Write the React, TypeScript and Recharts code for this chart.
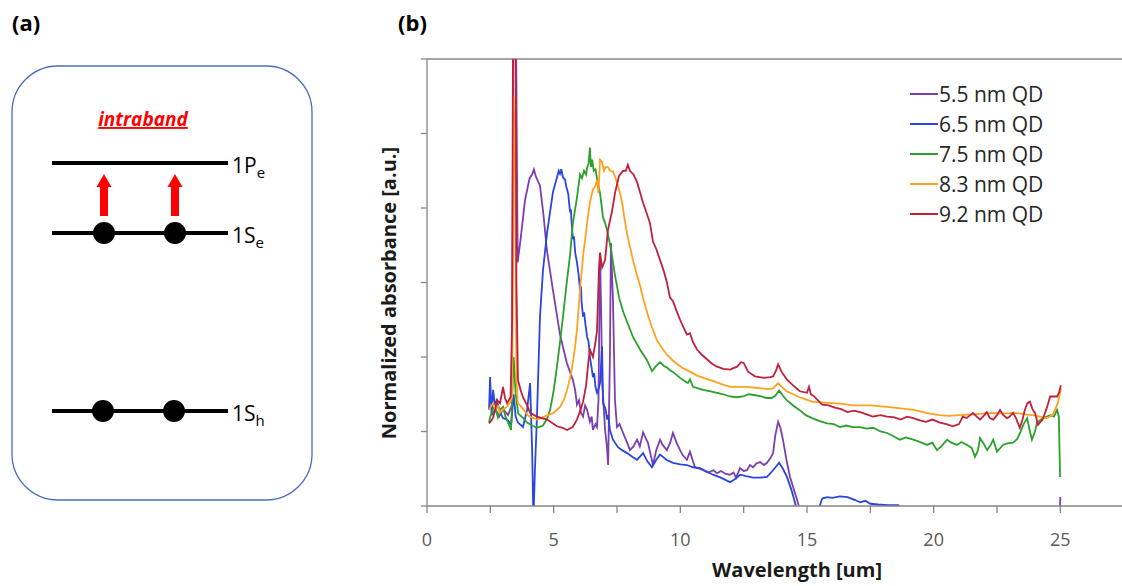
import React from 'react';
import { LineChart, Line, XAxis, YAxis, ReferenceLine, Label } from 'recharts';

type Pt = [number, number | null];

const seriesNames = ['5.5 nm QD', '6.5 nm QD', '7.5 nm QD', '8.3 nm QD', '9.2 nm QD'];
const seriesColors = ['#7B3FB0', '#2A45E0', '#2CA02C', '#FFA21F', '#C0203C'];

const qd55: Pt[] = [
  [2.55, 1.22], [2.7, 1.3], [2.85, 1.2], [3.0, 1.3], [3.2, 1.22], [3.35, 1.35], [3.42, 7], [3.5, 7], [3.58, 3.27],
  [3.7, 3.6], [3.87, 4.11], [4.05, 4.4], [4.15, 4.45], [4.22, 4.52], [4.3, 4.42], [4.46, 4.3], [4.6, 3.9], [4.73, 3.44],
  [4.97, 2.9], [5.25, 2.3], [5.52, 1.92], [5.76, 1.69], [5.85, 1.55], [5.92, 1.36], [6.0, 1.42], [6.08, 1.25], [6.16, 1.2],
  [6.24, 1.35], [6.32, 1.29], [6.43, 1.13], [6.5, 1.2], [6.55, 1.02], [6.65, 1.1], [6.71, 1.06], [6.77, 1.42], [6.83, 3.4],
  [6.88, 2.5], [6.91, 1.69], [7.03, 1.02], [7.1, 0.8], [7.15, 0.55], [7.22, 2.0], [7.26, 3.53], [7.34, 2.77], [7.42, 1.42],
  [7.5, 1.06], [7.6, 1.1], [7.74, 0.98], [7.9, 0.85], [8.01, 0.75], [8.15, 0.8], [8.29, 0.89], [8.4, 0.8], [8.53, 0.99],
  [8.62, 0.92], [8.72, 0.85], [8.82, 0.7], [8.92, 0.55], [9.05, 0.75], [9.2, 0.89], [9.3, 0.82], [9.47, 0.75], [9.6, 0.85],
  [9.71, 0.98], [9.85, 0.85], [9.99, 0.75], [10.1, 0.68], [10.26, 0.62], [10.38, 0.73], [10.5, 0.6], [10.58, 0.52],
  [10.75, 0.5], [10.9, 0.48], [11.1, 0.45], [11.3, 0.48], [11.45, 0.44], [11.6, 0.47], [11.8, 0.43], [11.96, 0.42],
  [12.1, 0.45], [12.2, 0.38], [12.36, 0.51], [12.5, 0.47], [12.63, 0.48], [12.75, 0.55], [12.87, 0.52], [13.0, 0.57],
  [13.15, 0.59], [13.3, 0.55], [13.42, 0.58], [13.55, 0.64], [13.66, 0.71], [13.75, 0.95], [13.86, 1.13], [13.95, 1.05],
  [14.05, 0.89], [14.2, 0.6], [14.33, 0.39], [14.5, 0.2], [14.61, 0.08], [14.8, -0.15], [14.85, null], [24.97, -0.2],
  [25.0, 0.12],
];

const qd65: Pt[] = [
  [2.45, 1.29], [2.49, 1.73], [2.55, 1.22], [2.61, 1.56], [2.68, 1.36], [2.76, 1.42], [2.88, 1.26], [3.0, 1.18],
  [3.16, 1.16], [3.32, 1.09], [3.42, 1.5], [3.5, 1.2], [3.59, 1.12], [3.79, 1.06], [3.95, 1.29], [4.07, 1.65],
  [4.15, 0.75], [4.2, -0.2], [4.26, 0.48], [4.34, 1.2], [4.46, 2.54], [4.58, 3.17], [4.74, 3.67], [4.97, 4.21],
  [5.13, 4.41], [5.2, 4.5], [5.25, 4.46], [5.3, 4.52], [5.37, 4.41], [5.45, 4.38], [5.5, 4.28], [5.53, 4.25], [5.58, 4.18],
  [5.6, 4.1], [5.65, 3.94], [5.68, 3.98], [5.7, 3.85], [5.76, 3.58], [5.8, 3.62], [5.85, 3.4], [5.92, 3.27], [5.98, 3.12],
  [6.04, 2.9], [6.08, 2.95], [6.1, 2.75], [6.16, 2.54], [6.2, 2.6], [6.25, 2.45], [6.32, 2.27], [6.38, 2.2], [6.43, 2.0],
  [6.5, 1.85], [6.55, 1.73], [6.6, 1.78], [6.65, 1.6], [6.71, 1.52], [6.78, 1.58], [6.83, 1.65], [6.91, 2.14], [6.95, 1.38],
  [7.05, 1.3], [7.11, 1.16], [7.16, 1.22], [7.22, 1.02], [7.34, 0.89], [7.54, 0.79], [7.7, 0.75], [7.9, 0.71], [8.1, 0.66],
  [8.29, 0.62], [8.53, 0.71], [8.7, 0.6], [8.88, 0.52], [9.05, 0.62], [9.2, 0.69], [9.45, 0.62], [9.71, 0.58], [10.0, 0.56],
  [10.26, 0.55], [10.5, 0.52], [10.78, 0.51], [11.0, 0.47], [11.29, 0.42], [11.6, 0.38], [11.96, 0.32], [12.15, 0.36],
  [12.36, 0.42], [12.6, 0.4], [12.87, 0.38], [13.15, 0.38], [13.42, 0.39], [13.66, 0.48], [13.9, 0.58], [14.05, 0.5],
  [14.21, 0.39], [14.4, 0.2], [14.53, 0.04], [14.65, -0.15], [14.7, null], [15.35, -0.15], [15.6, 0.1], [15.8, 0.12],
  [16.0, 0.11], [16.3, 0.13], [16.6, 0.12], [16.9, 0.08], [17.1, 0.05], [17.3, 0.07], [17.5, 0.03], [17.8, 0.02],
  [18.2, 0.01], [18.6, 0.01], [19.0, -0.15],
];

const qd75: Pt[] = [
  [2.45, 1.12], [2.49, 1.19], [2.6, 1.3], [2.68, 1.33], [2.8, 1.19], [2.9, 1.3], [3.0, 1.33], [3.1, 1.2], [3.2, 1.12],
  [3.32, 1.02], [3.42, 2.0], [3.5, 1.5], [3.6, 1.24], [3.8, 1.18], [3.95, 1.12], [4.15, 1.08], [4.34, 1.05], [4.58, 1.08],
  [4.75, 1.18], [4.86, 1.29], [5.0, 1.55], [5.13, 1.87], [5.25, 2.2], [5.37, 2.55], [5.5, 2.95], [5.65, 3.38], [5.76, 3.8],
  [5.92, 4.14], [6.04, 4.45], [6.12, 4.4], [6.2, 4.5], [6.28, 4.45], [6.32, 4.54], [6.38, 4.6], [6.43, 4.81], [6.47, 4.55],
  [6.52, 4.65], [6.58, 4.5], [6.65, 4.52], [6.71, 4.4], [6.77, 4.3], [6.83, 4.2], [6.95, 3.87], [7.03, 3.8], [7.11, 3.7],
  [7.26, 3.45], [7.42, 3.1], [7.58, 2.8], [7.75, 2.6], [7.9, 2.47], [8.13, 2.27], [8.41, 2.1], [8.68, 1.96], [8.88, 1.81],
  [9.05, 1.88], [9.2, 1.93], [9.35, 1.88], [9.47, 1.86], [9.6, 1.82], [9.71, 1.8], [9.85, 1.76], [9.99, 1.72], [10.15, 1.68],
  [10.3, 1.65], [10.38, 1.7], [10.5, 1.6], [10.7, 1.58], [10.9, 1.56], [11.2, 1.54], [11.45, 1.52], [11.7, 1.5],
  [11.96, 1.47], [12.2, 1.46], [12.48, 1.47], [12.7, 1.5], [12.9, 1.49], [13.2, 1.47], [13.4, 1.45], [13.6, 1.45],
  [13.75, 1.48], [13.9, 1.55], [14.05, 1.48], [14.2, 1.42], [14.45, 1.35], [14.7, 1.29], [14.95, 1.22], [15.2, 1.18],
  [15.5, 1.14], [15.8, 1.11], [16.05, 1.1], [16.3, 1.06], [16.55, 1.08], [16.8, 1.06], [17.09, 1.06], [17.35, 1.04],
  [17.61, 1.05], [17.9, 1.0], [18.16, 0.98], [18.4, 0.94], [18.67, 0.89], [18.9, 0.92], [19.19, 0.89], [19.45, 0.86],
  [19.74, 0.82], [19.95, 0.85], [20.13, 0.75], [20.3, 0.8], [20.53, 0.89], [20.7, 0.85], [20.92, 0.82], [21.1, 0.86],
  [21.32, 0.82], [21.5, 0.78], [21.63, 0.66], [21.75, 0.75], [21.83, 0.91], [21.95, 0.85], [22.11, 0.75], [22.25, 0.82],
  [22.35, 0.89], [22.5, 0.73], [22.74, 0.82], [22.9, 0.84], [23.13, 0.85], [23.3, 0.9], [23.41, 0.98], [23.55, 1.1],
  [23.69, 1.18], [23.8, 1.0], [23.88, 0.89], [24.0, 1.0], [24.08, 1.12], [24.32, 1.18], [24.6, 1.22], [24.75, 1.2],
  [24.87, 1.29], [24.94, 1.2], [24.99, 0.39],
];

const qd83: Pt[] = [
  [2.45, 1.29], [2.55, 1.35], [2.61, 1.38], [2.7, 1.3], [2.8, 1.34], [2.88, 1.25], [3.0, 1.3], [3.16, 1.33], [3.3, 1.4],
  [3.36, 1.47], [3.42, 5.5], [3.47, 4.8], [3.53, 1.7], [3.59, 1.38], [3.8, 1.3], [4.0, 1.21], [4.2, 1.18], [4.34, 1.16],
  [4.5, 1.18], [4.7, 1.21], [5.0, 1.25], [5.25, 1.33], [5.4, 1.42], [5.53, 1.56], [5.65, 1.72], [5.76, 1.93], [5.85, 2.15],
  [5.92, 2.37], [6.04, 2.9], [6.16, 3.35], [6.25, 3.6], [6.32, 3.8], [6.43, 4.07], [6.55, 4.25], [6.65, 4.3], [6.71, 4.38],
  [6.77, 4.2], [6.83, 4.65], [6.91, 4.62], [6.99, 4.5], [7.05, 4.55], [7.14, 4.55], [7.22, 4.5], [7.34, 4.49], [7.45, 4.4],
  [7.54, 4.3], [7.62, 4.2], [7.7, 4.07], [7.8, 3.85], [7.9, 3.65], [8.0, 3.5], [8.13, 3.3], [8.27, 3.12], [8.41, 2.96],
  [8.52, 2.8], [8.64, 2.65], [8.76, 2.52], [8.88, 2.4], [9.08, 2.22], [9.32, 2.1], [9.5, 2.02], [9.71, 1.95], [9.9, 1.9],
  [10.1, 1.85], [10.4, 1.8], [10.66, 1.75], [11.0, 1.71], [11.29, 1.68], [11.6, 1.64], [11.96, 1.6], [12.3, 1.6],
  [12.6, 1.6], [12.9, 1.59], [13.2, 1.58], [13.45, 1.57], [13.66, 1.58], [13.86, 1.65], [14.0, 1.6], [14.2, 1.54],
  [14.45, 1.5], [14.72, 1.46], [14.95, 1.43], [15.2, 1.4], [15.6, 1.39], [16.0, 1.38], [16.4, 1.37], [16.8, 1.35],
  [17.2, 1.35], [17.5, 1.35], [17.8, 1.34], [18.16, 1.33], [18.7, 1.31], [19.2, 1.29], [19.7, 1.25], [20.2, 1.22],
  [20.6, 1.21], [21.0, 1.22], [21.6, 1.23], [22.3, 1.25], [22.8, 1.24], [23.25, 1.25], [23.6, 1.23], [23.9, 1.22],
  [24.2, 1.2], [24.45, 1.18], [24.7, 1.22], [24.9, 1.38], [25.03, 1.58],
];

const qd92: Pt[] = [
  [2.45, 1.11], [2.55, 1.15], [2.61, 1.19], [2.7, 1.3], [2.76, 1.42], [2.88, 1.38], [2.95, 1.5], [3.0, 1.6], [3.08, 1.45],
  [3.16, 1.38], [3.3, 1.46], [3.36, 2.5], [3.4, 7], [3.49, 7], [3.53, 3.0], [3.59, 1.69], [3.7, 1.55], [3.79, 1.46],
  [3.95, 1.35], [4.07, 1.25], [4.34, 1.2], [4.74, 1.16], [5.13, 1.07], [5.35, 1.05], [5.53, 1.02], [5.75, 1.06],
  [5.92, 1.16], [6.05, 1.28], [6.16, 1.4], [6.28, 1.62], [6.36, 1.9], [6.43, 2.1], [6.55, 2.0], [6.65, 2.2], [6.71, 2.35],
  [6.79, 3.2], [6.83, 3.4], [6.91, 3.2], [7.03, 3.3], [7.14, 3.7], [7.3, 3.95], [7.42, 4.2], [7.58, 4.43], [7.74, 4.5],
  [7.85, 4.5], [7.93, 4.58], [8.01, 4.5], [8.15, 4.45], [8.29, 4.35], [8.4, 4.22], [8.53, 4.07], [8.65, 3.95], [8.8, 3.8],
  [8.92, 3.55], [9.05, 3.45], [9.2, 3.3], [9.35, 3.15], [9.47, 3.0], [9.59, 2.8], [9.71, 2.75], [9.85, 2.62], [9.99, 2.5],
  [10.12, 2.4], [10.26, 2.3], [10.38, 2.32], [10.5, 2.2], [10.66, 2.1], [10.85, 2.03], [11.05, 1.97], [11.25, 1.91],
  [11.45, 1.87], [11.7, 1.84], [11.96, 1.83], [12.1, 1.85], [12.24, 1.87], [12.4, 1.93], [12.5, 1.92], [12.68, 1.8],
  [12.95, 1.74], [13.3, 1.72], [13.55, 1.73], [13.66, 1.74], [13.78, 1.82], [13.86, 1.9], [14.0, 1.8], [14.2, 1.7],
  [14.45, 1.62], [14.72, 1.54], [15.0, 1.52], [15.08, 1.6], [15.15, 1.5], [15.25, 1.48], [15.6, 1.36], [15.85, 1.35],
  [16.1, 1.32], [16.35, 1.3], [16.6, 1.26], [16.85, 1.28], [17.1, 1.26], [17.35, 1.23], [17.6, 1.2], [17.9, 1.22],
  [18.16, 1.2], [18.45, 1.19], [18.7, 1.16], [18.95, 1.2], [19.2, 1.18], [19.45, 1.15], [19.7, 1.13], [19.95, 1.16],
  [20.25, 1.12], [20.5, 1.1], [20.76, 1.07], [21.0, 1.1], [21.15, 1.2], [21.3, 1.18], [21.55, 1.25], [21.7, 1.2],
  [21.83, 1.16], [22.0, 1.22], [22.1, 1.26], [22.22, 1.18], [22.35, 1.16], [22.5, 1.22], [22.62, 1.29], [22.75, 1.22],
  [22.9, 1.18], [23.0, 1.2], [23.13, 1.25], [23.25, 1.18], [23.4, 1.05], [23.5, 1.15], [23.6, 1.29], [23.7, 1.38],
  [23.8, 1.4], [23.9, 1.3], [24.0, 1.25], [24.12, 1.09], [24.3, 1.16], [24.45, 1.3], [24.6, 1.47], [24.75, 1.47],
  [24.87, 1.47], [24.95, 1.52], [25.02, 1.62],
];

const allSeries: Pt[][] = [qd55, qd65, qd75, qd83, qd92];

const xTicks = [0, 2.5, 5, 7.5, 10, 12.5, 15, 17.5, 20, 22.5, 25, 27.5, 30];
const xTickLabels = [0, 5, 10, 15, 20, 25];
const yTicks = [0, 1, 2, 3, 4, 5, 6];

const xTitle = 'Wavelength [um]';
const yTitle = 'Normalized absorbance [a.u.]';

const toRows = (pts: Pt[]) => pts.map(([x, y]) => ({ x, y }));

const AXIS = '#868686';
const FONT = '"Open Sans", sans-serif';

const YTitle = () => (
  <text
    x={388}
    y={293}
    transform="rotate(-90 388 293)"
    textAnchor="middle"
    dominantBaseline="central"
    fontFamily={FONT}
    fontWeight={700}
    fontSize={20}
    fill="#1a1a1a"
  >
    {yTitle}
  </text>
);

const XTitle = () => (
  <text x={797} y={577} textAnchor="middle" fontFamily={FONT} fontWeight={700} fontSize={20} fill="#1a1a1a">
    {xTitle}
  </text>
);

const Level = ({ y, name, sub }: { y: number; name: string; sub: string }) => (
  <g>
    <line x1={52} x2={228} y1={y} y2={y} stroke="#000" strokeWidth={4} />
    <text x={232} y={y + 10} fontFamily={FONT} fontSize={21} fill="#000">
      {name}
      <tspan dy={5} fontSize={15}>{sub}</tspan>
    </text>
  </g>
);

const Arrow = ({ cx }: { cx: number }) => (
  <g fill="#ff0000">
    <rect x={cx - 4} y={186} width={8} height={30} />
    <polygon points={`${cx - 7.5},187 ${cx + 7.5},187 ${cx},174`} />
  </g>
);

const PanelA = () => (
  <svg width={340} height={586} style={{ position: 'absolute', left: 0, top: 0 }}>
    <text x={12} y={31} fontFamily={FONT} fontWeight={700} fontSize={22} fill="#000">(a)</text>
    <rect x={12} y={66} width={300} height={434} rx={46} ry={46} fill="none" stroke="#4a6cc4" strokeWidth={1.3} />
    <text
      x={143}
      y={126}
      textAnchor="middle"
      fontFamily={FONT}
      fontWeight={700}
      fontStyle="italic"
      fontSize={19}
      fill="#ff0000"
      textDecoration="underline"
    >
      intraband
    </text>
    <Level y={163} name="1P" sub="e" />
    <Level y={233} name="1S" sub="e" />
    <Level y={411} name="1S" sub="h" />
    <Arrow cx={104} />
    <Arrow cx={175} />
    <circle cx={104} cy={233} r={11} fill="#000" />
    <circle cx={175} cy={233} r={11} fill="#000" />
    <circle cx={103} cy={411} r={11} fill="#000" />
    <circle cx={174} cy={411} r={11} fill="#000" />
  </svg>
);

export default function App() {
  return (
    <div
      style={{
        position: 'absolute',
        left: 0,
        top: 0,
        width: 1122,
        height: 586,
        overflow: 'hidden',
        background: '#fff',
        fontFamily: FONT,
      }}
    >
      <div style={{ position: 'absolute', left: 0, top: 0 }}>
        <LineChart width={1190} height={586} margin={{ top: 59, right: 3, bottom: 40, left: 367 }}>
          <XAxis
            type="number"
            dataKey="x"
            domain={[0, 30]}
            ticks={xTicks}
            interval={0}
            allowDataOverflow
            tickFormatter={(v: number) => (xTickLabels.includes(v) ? String(v) : '')}
            stroke={AXIS}
            strokeWidth={1.3}
            tickSize={7}
            tickMargin={20}
            tick={{ fill: '#595959', fontSize: 18, fontFamily: FONT }}
            height={40}
            label={<Label content={XTitle} />}
          />
          <YAxis
            type="number"
            dataKey="y"
            domain={[0, 6]}
            ticks={yTicks}
            interval={0}
            allowDataOverflow
            tickFormatter={() => ''}
            width={60}
            tickSize={6}
            stroke={AXIS}
            strokeWidth={1.3}
            label={<Label content={YTitle} />}
          />
          <ReferenceLine y={6} stroke={AXIS} strokeWidth={1.3} />
          {allSeries.map((s, i) => (
            <Line
              key={seriesNames[i]}
              data={toRows(s)}
              dataKey="y"
              name={seriesNames[i]}
              type="linear"
              dot={false}
              activeDot={false}
              stroke={seriesColors[i]}
              strokeWidth={1.8}
              connectNulls={false}
              isAnimationActive={false}
            />
          ))}
        </LineChart>
      </div>
      <PanelA />
      <svg width={60} height={40} style={{ position: 'absolute', left: 396, top: 0 }}>
        <text x={2} y={31} fontFamily={FONT} fontWeight={700} fontSize={22} fill="#000">(b)</text>
      </svg>
      <div style={{ position: 'absolute', left: 910, top: 79 }}>
        {seriesNames.map((n, i) => (
          <div key={n} style={{ display: 'flex', alignItems: 'center', height: 30 }}>
            <div style={{ width: 28, height: 2, background: seriesColors[i] }} />
            <span style={{ fontSize: 21, color: '#262626', marginLeft: 1, lineHeight: '30px', fontFamily: FONT }}>{n}</span>
          </div>
        ))}
      </div>
    </div>
  );
}
